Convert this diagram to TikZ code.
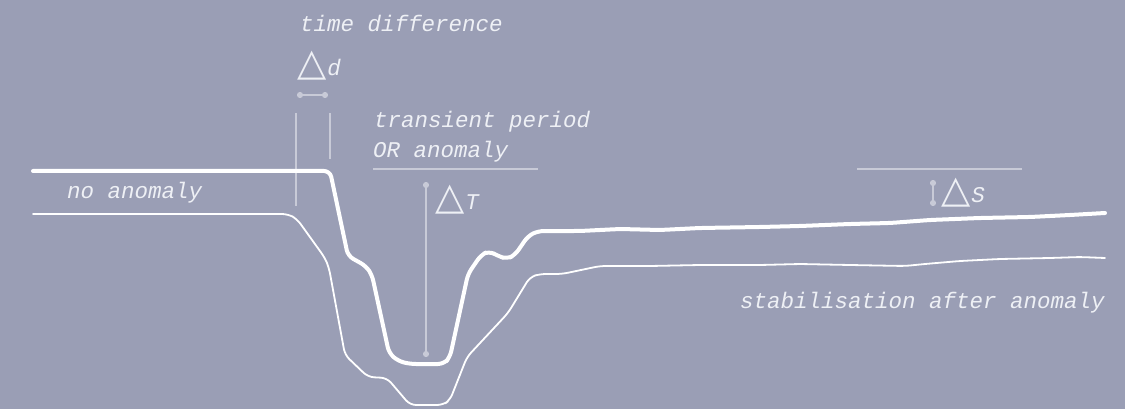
\documentclass[tikz,border=0pt]{standalone}
\usepackage{fontspec}
\setmonofont{Liberation Mono}
\newfontfamily\symfont{DejaVu Sans}
\usetikzlibrary{arrows.meta}
\definecolor{bgblue}{HTML}{9A9EB5}
\definecolor{labeltext}{HTML}{EEF0F5}
\definecolor{guidegray}{HTML}{C8CAD7}
\newcommand\dsym{{\fontsize{38}{38}\selectfont\symfont △}\kern1pt}
\begin{document}
\begin{tikzpicture}[
    x=1pt, y=-1pt,
    every node/.style={inner sep=0pt, anchor=base west, text=labeltext,
        font=\fontsize{22.5}{27}\selectfont\ttfamily\itshape},
    signal/.style={draw=white, line width=4pt, rounded corners=6pt, line cap=round, line join=round},
    baseline/.style={draw=white, line width=1.8pt, rounded corners=6pt, line cap=round, line join=round},
    guide/.style={draw=guidegray, line width=2pt},
    span/.style={guide, {Circle[length=6pt]}-{Circle[length=6pt]}}
]
    \fill[bgblue] (0,0) rectangle (1125,409);
    \useasboundingbox (0,0) rectangle (1125,409);

    \node (timediff) at (300,32) {time difference};
    \node (deltad) at (297,76) {\dsym d};
    \node (transient) at (374,128) {transient period};
    \node (oranomaly) at (373,158) {OR anomaly};
    \node (noanomaly) at (67,198) {no anomaly};
    \node (stabil) at (740,308) {stabilisation after anomaly};
    \node (deltaT) at (435,209) {\dsym T};
    \node (deltaS) at (941,203) {\dsym S};

    \draw[span] (297,95) -- (328,95);
    \draw[guide] (296,113) -- (296,206);
    \draw[guide] (330,113) -- (330,159);
    \draw[guide] (373,169) -- (538,169);
    \draw[span] (426,182) -- (426,357);
    \draw[guide] (857,169) -- (1022,169);
    \draw[span] (933,180) -- (933,206);

    \draw[baseline] (33,214) -- (288,214) -- (297,219) -- (325,258) -- (329,268)
        -- (345,355) -- (368,377) -- (387,378) -- (410,405) -- (443,405)
        -- (450,400) -- (467,357) -- (508,313) -- (530,277) -- (540,274)
        -- (562,274) -- (600,266) -- (650,266) -- (700,265) -- (760,265)
        -- (800,264) -- (850,265) -- (905,266) -- (925,264) -- (960,261)
        -- (1000,259) -- (1050,258) -- (1080,257) -- (1105,258);

    \draw[signal] (33,171) -- (330,171) -- (348,256) -- (366,266) -- (372,275)
        -- (389,353) -- (398,361) -- (410,364) -- (444,364) -- (450,357)
        -- (468,274) -- (481,255) -- (489,251) -- (498,256) -- (507,259)
        -- (515,255) -- (528,236) -- (538,231) -- (580,231) -- (620,229)
        -- (660,230) -- (700,228) -- (760,227) -- (800,226) -- (850,224)
        -- (890,223) -- (930,220) -- (980,218) -- (1030,217) -- (1070,215)
        -- (1105,213);
\end{tikzpicture}
\end{document}
